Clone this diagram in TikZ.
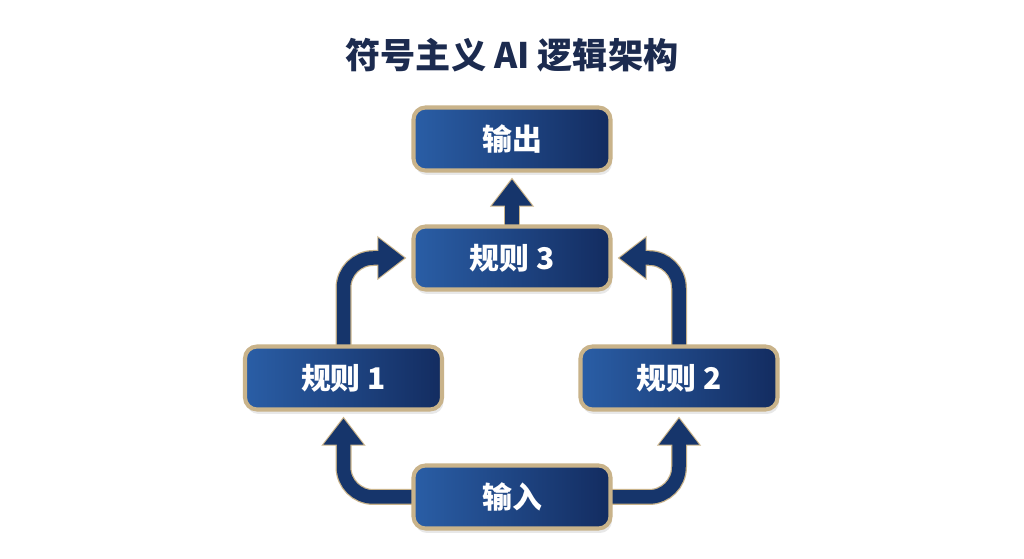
\documentclass[tikz,border=0pt]{standalone}
\usepackage{fontspec}
\newfontfamily\cjk{Noto Sans CJK SC}
\usepackage{tikz}
\usetikzlibrary{arrows.meta, shadows, backgrounds}

\definecolor{titlenavy}{HTML}{1C2B4F}
\definecolor{boxlight}{HTML}{2A5EA6}
\definecolor{boxmid}{HTML}{1D4586}
\definecolor{boxdark}{HTML}{132C60}
\definecolor{boxgold}{HTML}{C9B38A}
\definecolor{flownavy}{HTML}{16356B}

\tikzset{
    rulebox/.style={draw=boxgold, line width=2.3pt, rounded corners=0.24cm,
        minimum width=3.94cm, minimum height=1.26cm,
        left color=boxlight, middle color=boxmid, right color=boxdark, text=white,
        font=\cjk\bfseries\fontsize{17}{19}\selectfont,
        drop shadow={shadow xshift=0.03cm, shadow yshift=-0.09cm, opacity=0.18}},
    flowout/.style={draw=boxgold, line width=0.32cm, rounded corners=0.6cm,
        -{Triangle[width=0.84cm, length=0.58cm]}, shorten >=0.1cm},
    flowin/.style={draw=flownavy, line width=0.27cm, rounded corners=0.6cm,
        -{Triangle[width=0.76cm, length=0.52cm]}, shorten >=0.14cm}
}

\begin{document}
\begin{tikzpicture}
                \useasboundingbox (0,0) rectangle (20.48,11.18);
                \node[text=titlenavy, font=\cjk\bfseries\fontsize{20}{24}\selectfont] (title) at (10.24,10.08) {符号主义 AI 逻辑架构};
                \node[rulebox] (out) at (10.24,8.40) {输出};
                \node[rulebox] (r3) at (10.24,6.02) {规则 3};
                \node[rulebox] (r1) at (6.87,3.62) {规则 1};
                \node[rulebox] (r2) at (13.58,3.62) {规则 2};
                \node[rulebox] (in) at (10.24,1.24) {输入};
                % connectors behind the boxes
                \begin{pgfonlayer}{background}
                    \fill[white] (0,0) rectangle (20.48,11.18);
                    \foreach \style in {flowout, flowin} {
                        \draw[\style] (in.center) -| (r1.south);
                        \draw[\style] (in.center) -| (r2.south);
                        \draw[\style] (r1.center) |- (r3.west);
                        \draw[\style] (r2.center) |- (r3.east);
                        \draw[\style] (r3.center) -- (out.south);
                    }
                \end{pgfonlayer}
\end{tikzpicture}
\end{document}
